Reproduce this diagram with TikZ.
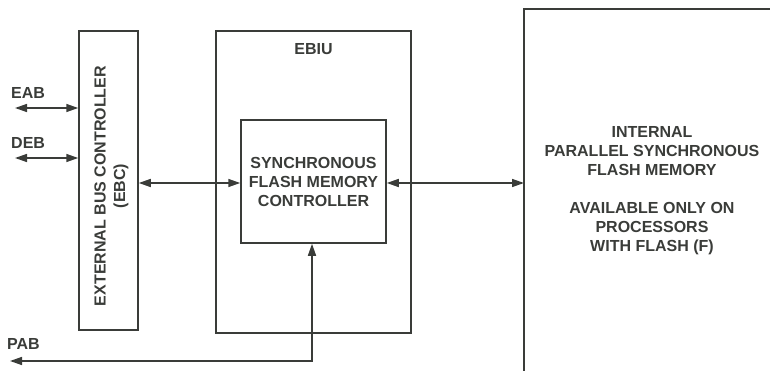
\documentclass[tikz,border=0pt]{standalone}
\usepackage{fontspec}
\setmainfont{Liberation Sans}
\usetikzlibrary{arrows.meta}
\definecolor{ink}{HTML}{3A3C39}
\begin{document}
\begin{tikzpicture}[x=1pt,y=-1pt,
  box/.style={draw=ink,line width=1.5pt,inner sep=0pt},
  lbl/.style={text=ink,font=\fontsize{16}{19}\selectfont\bfseries,align=center,inner sep=0pt},
  conn/.style={draw=ink,line width=1.5pt,{Triangle[length=12pt,width=8pt]}-{Triangle[length=12pt,width=8pt]}}]
\useasboundingbox (0,0) rectangle (770,371);
% boxes
\node[box,minimum width=59pt,minimum height=299pt] (ebc) at (108.5,180.5) {};
\node[box,minimum width=195pt,minimum height=302pt] (ebiu) at (313.5,182) {};
\node[box,minimum width=145pt,minimum height=123pt] (sfmc) at (313.5,181.5) {};
\coordinate (bigl) at (524,183);
\draw[ink,line width=1.5pt] (524,375) -- (524,9) -- (775,9);
% texts
\node[lbl,rotate=90] (ebct1) at (100,186) {EXTERNAL BUS CONTROLLER};
\node[lbl,rotate=90] (ebct2) at (121,186) {(EBC)};
\node[lbl] (ebiut) at (313.5,49) {EBIU};
\node[lbl] (sfmct) at (313.5,182) {SYNCHRONOUS\\FLASH MEMORY\\CONTROLLER};
\node[lbl] (bigt) at (652,191) {INTERNAL\\PARALLEL SYNCHRONOUS\\FLASH MEMORY\\[19pt]AVAILABLE ONLY ON\\PROCESSORS\\WITH FLASH (F)};
\node[lbl,anchor=west] (eab) at (11,93) {EAB};
\node[lbl,anchor=west] (deb) at (11,143) {DEB};
\node[lbl,anchor=west] (pab) at (7,344) {PAB};
% connectors
\coordinate (eabend) at (15,108);
\coordinate (debend) at (15,158);
\coordinate (pabend) at (10,361);
\coordinate (pabc) at (312,361);
\draw[conn] (eabend) -- (eabend -| ebc.west);
\draw[conn] (debend) -- (debend -| ebc.west);
\draw[conn] (ebc.east |- 0,183) -- (sfmc.west |- 0,183);
\draw[conn] (sfmc.east |- 0,183) -- (bigl);
\draw[conn] (sfmc.south -| pabc) -- (pabc) -- (pabend);
\end{tikzpicture}
\end{document}
